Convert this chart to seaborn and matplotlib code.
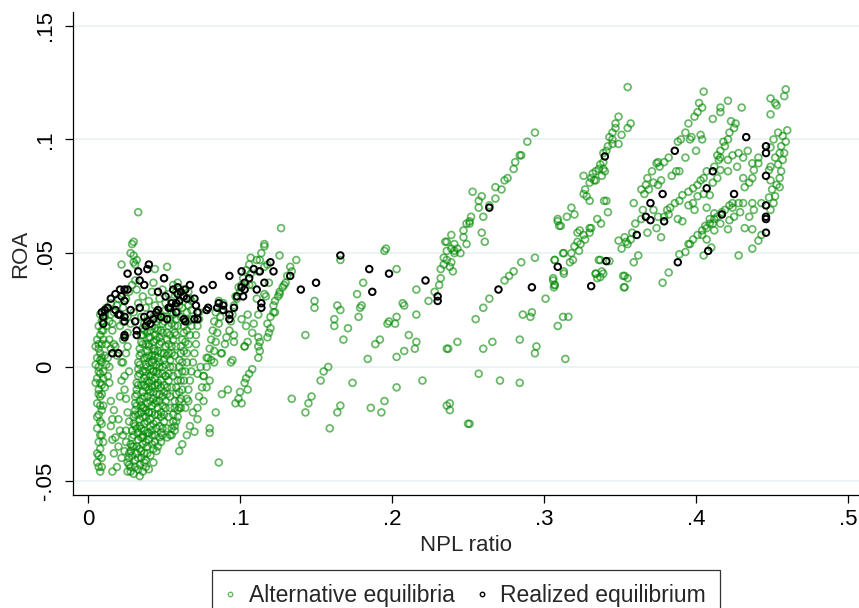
import matplotlib
matplotlib.use("Agg")
import matplotlib.pyplot as plt
from matplotlib.lines import Line2D
import seaborn as sns
import pandas as pd

# alternative equilibria, left block (NPL < .14)
alt_left = [
    # column near x = .008
    (0.006,-0.042),(0.007,-0.044),(0.006,-0.038),(0.008,-0.036),(0.007,-0.033),(0.009,-0.030),
    (0.006,-0.027),(0.008,-0.024),(0.007,-0.021),(0.009,-0.019),(0.006,-0.016),(0.008,-0.013),
    (0.007,-0.010),(0.009,-0.008),(0.006,-0.005),(0.008,-0.003),(0.007,0.000),(0.009,0.002),
    (0.006,0.004),(0.008,0.006),(0.007,0.008),(0.009,0.010),(0.006,0.012),(0.008,0.014),
    (0.010,0.016),(0.007,0.018),(0.009,0.020),(0.011,0.022),(0.008,0.023),(0.005,0.009),
    (0.005,0.001),(0.005,-0.007),(0.010,-0.002),(0.011,0.005),(0.010,0.012),(0.011,-0.009),
    (0.010,-0.017),(0.009,-0.040),(0.010,-0.033),(0.012,0.018),(0.012,0.010),(0.012,0.001),
    (0.008,-0.046),(0.009,-0.044),(0.011,0.024),(0.013,-0.004),(0.014,0.000),(0.013,0.004),
    (0.015,0.008),(0.014,0.012),(0.016,0.019),(0.015,0.023),
    (0.007,-0.039),(0.008,-0.030),(0.006,-0.022),(0.008,-0.017),(0.007,-0.012),(0.008,-0.007),
    (0.007,-0.002),(0.008,0.003),(0.007,0.010),(0.009,0.016),(0.010,0.020),(0.009,0.004),
    (0.010,-0.005),(0.009,-0.012),(0.009,-0.025),
    # sparse band x .013-.028
    (0.014,-0.007),(0.015,-0.015),(0.017,-0.019),(0.016,-0.023),(0.016,-0.032),(0.017,-0.038),
    (0.016,-0.046),(0.020,-0.023),(0.022,-0.006),(0.023,0.002),(0.019,0.005),(0.017,0.010),
    (0.021,-0.013),(0.025,-0.028),(0.026,-0.042),(0.028,-0.046),(0.027,-0.002),(0.024,-0.010),
    (0.026,-0.020),(0.023,-0.030),(0.020,-0.035),(0.022,-0.040),(0.019,-0.044),(0.024,-0.037),
    (0.021,-0.028),(0.018,-0.031),(0.015,-0.026),(0.018,0.009),(0.025,0.006),(0.026,0.015),
    (0.023,0.012),(0.021,0.018),(0.022,0.002),(0.024,-0.004),(0.025,-0.014),(0.027,-0.024),
    (0.025,-0.033),(0.027,-0.038),(0.026,0.009),(0.023,0.020),
    # dense core, slanted streaks
    (0.026,-0.046),(0.027,-0.043),(0.027,-0.040),(0.028,-0.037),(0.028,-0.034),(0.029,-0.031),
    (0.029,-0.028),(0.030,-0.025),(0.030,-0.022),(0.031,-0.019),(0.031,-0.016),(0.031,-0.013),
    (0.032,-0.010),(0.032,-0.007),(0.033,-0.004),(0.033,-0.001),(0.033,0.002),(0.034,0.005),
    (0.034,0.008),(0.035,0.011),(0.035,0.014),(0.036,0.017),
    (0.030,-0.047),(0.031,-0.044),(0.031,-0.041),(0.032,-0.038),(0.032,-0.035),(0.033,-0.032),
    (0.033,-0.029),(0.034,-0.026),(0.034,-0.023),(0.035,-0.020),(0.035,-0.017),(0.036,-0.014),
    (0.036,-0.011),(0.037,-0.008),(0.037,-0.005),(0.038,-0.002),(0.038,0.001),(0.039,0.004),
    (0.039,0.007),(0.040,0.010),(0.040,0.013),(0.041,0.016),(0.041,0.019),
    (0.034,-0.043),(0.035,-0.040),(0.035,-0.037),(0.036,-0.034),(0.036,-0.031),(0.037,-0.028),
    (0.037,-0.025),(0.038,-0.022),(0.038,-0.019),(0.039,-0.016),(0.039,-0.013),(0.040,-0.010),
    (0.040,-0.007),(0.041,-0.004),(0.041,-0.001),(0.042,0.002),(0.042,0.005),(0.043,0.008),
    (0.043,0.011),(0.044,0.014),(0.044,0.017),(0.045,0.020),(0.046,0.023),
    (0.038,-0.041),(0.039,-0.038),(0.039,-0.035),(0.040,-0.032),(0.040,-0.029),(0.041,-0.026),
    (0.041,-0.023),(0.042,-0.020),(0.042,-0.017),(0.043,-0.014),(0.043,-0.011),(0.044,-0.008),
    (0.044,-0.005),(0.045,-0.002),(0.045,0.001),(0.046,0.004),(0.046,0.007),(0.047,0.010),
    (0.047,0.013),(0.048,0.016),(0.049,0.019),(0.050,0.022),
    (0.043,-0.036),(0.044,-0.033),(0.044,-0.030),(0.045,-0.027),(0.045,-0.024),(0.046,-0.021),
    (0.046,-0.018),(0.047,-0.015),(0.047,-0.012),(0.048,-0.009),(0.048,-0.006),(0.049,-0.003),
    (0.049,0.000),(0.050,0.003),(0.050,0.006),(0.051,0.009),(0.052,0.012),(0.052,0.015),
    (0.053,0.018),(0.054,0.021),(0.055,0.024),
    (0.048,-0.033),(0.049,-0.030),(0.049,-0.027),(0.050,-0.024),(0.050,-0.021),(0.051,-0.018),
    (0.051,-0.015),(0.052,-0.012),(0.052,-0.009),(0.053,-0.006),(0.053,-0.003),(0.054,0.000),
    (0.054,0.003),(0.055,0.006),(0.055,0.009),(0.056,0.012),(0.057,0.015),(0.057,0.018),
    (0.058,0.021),(0.059,0.024),(0.060,0.027),
    (0.055,-0.030),(0.055,-0.027),(0.056,-0.024),(0.056,-0.021),(0.057,-0.018),(0.057,-0.015),
    (0.058,-0.012),(0.058,-0.009),(0.059,-0.006),(0.059,-0.003),(0.060,0.000),(0.060,0.003),
    (0.061,0.006),(0.061,0.009),(0.062,0.012),(0.063,0.015),(0.063,0.018),(0.064,0.021),
    (0.065,0.024),(0.066,0.027),(0.067,0.030),
    (0.032,-0.027),(0.033,-0.021),(0.034,-0.015),(0.035,-0.008),(0.036,-0.002),(0.037,0.004),
    (0.038,0.010),(0.039,0.015),(0.036,-0.030),(0.037,-0.018),(0.039,-0.006),(0.040,0.002),
    (0.042,-0.009),(0.043,-0.002),(0.044,0.005),(0.045,-0.015),(0.046,-0.008),(0.047,0.000),
    (0.048,-0.020),(0.050,-0.011),(0.051,-0.004),(0.053,0.006),(0.042,-0.028),(0.040,-0.020),
    # dense core, in-between streaks
    (0.028,-0.044),(0.029,-0.039),(0.029,-0.035),(0.030,-0.030),(0.031,-0.026),(0.031,-0.021),
    (0.032,-0.017),(0.032,-0.012),(0.033,-0.008),(0.034,-0.003),(0.034,0.001),(0.035,0.006),
    (0.036,0.010),(0.036,0.014),(0.037,0.019),
    (0.033,-0.045),(0.033,-0.040),(0.034,-0.036),(0.035,-0.031),(0.035,-0.027),(0.036,-0.022),
    (0.036,-0.018),(0.037,-0.013),(0.038,-0.009),(0.038,-0.004),(0.039,0.000),(0.040,0.005),
    (0.040,0.009),(0.041,0.013),(0.042,0.018),(0.043,0.022),
    (0.037,-0.042),(0.037,-0.038),(0.038,-0.033),(0.039,-0.029),(0.039,-0.024),(0.040,-0.020),
    (0.041,-0.015),(0.041,-0.011),(0.042,-0.006),(0.043,-0.002),(0.043,0.003),(0.044,0.007),
    (0.045,0.012),(0.046,0.016),(0.047,0.021),
    (0.041,-0.039),(0.042,-0.034),(0.042,-0.030),(0.043,-0.025),(0.044,-0.021),(0.044,-0.016),
    (0.045,-0.012),(0.046,-0.007),(0.046,-0.003),(0.047,0.002),(0.048,0.006),(0.048,0.011),
    (0.049,0.015),(0.050,0.020),(0.051,0.025),
    (0.046,-0.035),(0.047,-0.031),(0.047,-0.026),(0.048,-0.022),(0.049,-0.017),(0.049,-0.013),
    (0.050,-0.008),(0.051,-0.004),(0.051,0.001),(0.052,0.005),(0.053,0.010),(0.054,0.014),
    (0.055,0.019),(0.056,0.023),
    (0.052,-0.031),(0.052,-0.027),(0.053,-0.022),(0.054,-0.018),(0.054,-0.013),(0.055,-0.009),
    (0.056,-0.004),(0.056,0.000),(0.057,0.005),(0.058,0.009),(0.058,0.014),(0.059,0.018),
    (0.061,0.022),(0.062,0.026),
    (0.057,-0.028),(0.058,-0.024),(0.059,-0.019),(0.060,-0.015),(0.060,-0.011),(0.061,-0.006),
    (0.062,-0.002),(0.062,0.002),(0.063,0.007),(0.064,0.011),(0.065,0.016),(0.066,0.020),
    (0.068,0.025),
    # top of the block, around the realized points
    (0.012,0.026),(0.015,0.028),(0.017,0.024),(0.019,0.027),(0.014,0.020),(0.016,0.016),
    (0.020,0.030),(0.023,0.026),(0.025,0.030),(0.027,0.033),(0.026,0.022),(0.028,0.019),
    (0.030,0.024),(0.033,0.028),(0.036,0.031),(0.038,0.026),(0.040,0.029),(0.042,0.033),
    (0.044,0.027),(0.047,0.030),(0.049,0.034),(0.051,0.028),(0.053,0.032),(0.055,0.029),
    (0.058,0.033),(0.061,0.031),(0.063,0.034),(0.066,0.033),(0.068,0.029),(0.035,0.022),
    (0.037,0.016),
    # spike near x = .032
    (0.033,0.068),(0.029,0.054),(0.030,0.055),(0.028,0.050),(0.030,0.049),(0.032,0.047),
    (0.030,0.046),(0.031,0.045),(0.022,0.045),(0.044,0.043),(0.052,0.044),(0.050,0.039),
    (0.059,0.037),(0.056,0.036),(0.043,0.037),(0.031,0.038),(0.032,0.034),(0.029,0.036),
    # streaks x .059-.09
    (0.059,-0.022),(0.060,-0.018),(0.061,-0.014),(0.062,-0.010),(0.063,-0.006),(0.064,-0.002),
    (0.065,0.002),(0.065,0.006),(0.066,0.010),(0.067,0.014),(0.068,0.018),(0.068,0.021),
    (0.064,-0.018),(0.065,-0.014),(0.066,-0.010),(0.067,-0.006),(0.068,-0.002),(0.069,0.002),
    (0.070,0.006),(0.071,0.010),(0.071,0.014),(0.072,0.018),(0.073,0.021),(0.073,0.024),
    (0.072,-0.018),(0.073,-0.013),(0.075,-0.009),(0.076,-0.004),(0.078,0.000),(0.079,0.004),
    (0.080,0.008),(0.081,0.012),(0.082,0.016),(0.083,0.020),(0.084,0.024),(0.086,0.029),
    (0.081,0.003),(0.083,0.007),(0.084,0.011),(0.085,0.015),(0.086,0.019),(0.087,0.022),
    (0.088,0.025),(0.089,0.028),
    (0.088,0.006),(0.090,0.010),(0.091,0.013),(0.093,0.016),(0.094,0.020),(0.095,0.023),
    (0.096,0.027),(0.097,0.031),(0.099,0.035),
    (0.098,0.030),(0.100,0.033),(0.101,0.036),(0.102,0.039),(0.104,0.0425),(0.106,0.045),
    (0.107,0.048),
    # lower scatter of the block
    (0.070,-0.0285),(0.072,-0.023),(0.076,-0.015),(0.080,-0.027),(0.080,-0.029),(0.086,-0.042),
    (0.066,-0.015),(0.078,-0.009),(0.080,-0.006),(0.074,0.000),(0.043,-0.042),(0.045,-0.037),
    (0.048,-0.029),(0.054,-0.030),(0.057,-0.026),(0.061,-0.018),(0.034,-0.048),(0.030,-0.035),
    (0.062,-0.034),(0.065,-0.030),(0.060,-0.037),(0.067,-0.026),(0.069,-0.020),(0.083,0.002),
    (0.078,0.004),(0.076,-0.004),(0.072,-0.003),(0.094,0.002),(0.103,0.009),(0.088,-0.012),
    (0.084,-0.020),(0.092,-0.010),(0.0875,0.006),(0.040,-0.045),(0.036,-0.046),(0.038,-0.044),
    # right edge streaks x .095-.14
    (0.116,0.054),(0.116,0.053),(0.113,0.047),(0.111,0.047),(0.114,0.050),(0.126,0.049),
    (0.133,0.044),(0.134,0.042),(0.131,0.040),(0.130,0.037),(0.129,0.036),(0.128,0.035),
    (0.126,0.033),(0.126,0.032),(0.125,0.031),(0.123,0.029),(0.122,0.027),(0.123,0.024),
    (0.120,0.022),(0.118,0.019),(0.120,0.017),(0.119,0.015),(0.118,0.013),(0.112,0.013),
    (0.113,0.011),(0.112,0.009),(0.113,0.007),(0.112,0.004),(0.108,-0.001),(0.106,-0.003),
    (0.104,-0.005),(0.103,-0.007),(0.105,-0.010),(0.100,-0.011),(0.099,-0.014),(0.101,-0.016),
    (0.097,-0.016),(0.109,0.019),(0.105,0.023),(0.104,0.018),(0.108,0.015),(0.105,0.011),
    (0.103,0.009),(0.096,0.014),(0.096,0.011),(0.095,0.003),(0.101,0.021),(0.117,0.031),
    (0.116,0.032),(0.122,0.024),(0.112,0.023),(0.111,0.030),(0.119,0.037),(0.116,0.044),
    (0.118,0.045),(0.112,0.042),(0.107,0.041),(0.108,0.036),(0.106,0.036),(0.127,0.061),
    (0.137,0.047),(0.134,-0.014),
]

# alternative equilibria, middle stretch (.14 < NPL < .31)
alt_mid = [
    (0.149,0.029),(0.149,0.026),(0.143,0.014),(0.158,0.000),(0.155,-0.002),(0.153,-0.006),
    (0.147,-0.013),(0.145,-0.016),(0.143,-0.020),(0.159,-0.027),(0.164,-0.020),(0.166,-0.017),
    (0.174,-0.007),(0.168,0.012),(0.171,0.017),(0.162,0.018),(0.162,0.021),(0.164,0.027),
    (0.166,0.025),(0.166,0.047),(0.177,0.032),(0.181,0.037),(0.178,0.022),(0.179,0.026),
    (0.180,0.027),(0.184,0.0035),(0.189,0.010),(0.192,0.012),(0.186,-0.018),(0.193,-0.020),
    (0.195,-0.015),(0.203,-0.009),(0.195,0.051),(0.196,0.052),(0.203,0.043),(0.198,0.020),
    (0.202,0.019),(0.197,0.019),(0.203,0.022),(0.207,0.028),(0.208,0.027),(0.216,0.023),
    (0.211,0.014),(0.216,0.011),(0.215,0.008),(0.208,0.007),(0.203,0.0044),(0.220,-0.006),
    (0.216,0.034),(0.224,0.029),(0.228,0.033),(0.231,0.036),(0.232,0.039),(0.232,0.043),
    (0.234,0.045),(0.234,0.048),(0.236,0.047),(0.236,0.051),(0.239,0.052),(0.241,0.050),
    (0.241,0.051),(0.243,0.052),(0.245,0.050),(0.239,0.046),(0.238,0.044),(0.240,0.042),
    (0.235,0.055),(0.236,0.055),(0.239,0.058),(0.241,0.054),(0.247,0.057),(0.249,0.054),
    (0.247,0.060),(0.249,0.063),(0.251,0.064),(0.252,0.066),(0.251,0.063),(0.253,0.077),
    (0.257,0.070),(0.257,0.073),(0.259,0.075),(0.260,0.066),(0.259,0.059),(0.261,0.055),
    (0.264,0.071),(0.268,0.074),(0.268,0.079),(0.272,0.078),(0.274,0.082),(0.276,0.083),
    (0.280,0.087),(0.281,0.090),(0.284,0.093),(0.285,0.093),(0.289,0.099),(0.294,0.103),
    (0.257,-0.003),(0.271,-0.006),(0.284,-0.007),(0.251,-0.025),(0.250,-0.025),(0.236,-0.017),
    (0.238,-0.016),(0.238,-0.019),(0.237,0.008),(0.236,0.008),(0.243,0.011),(0.260,0.008),
    (0.266,0.011),(0.255,0.021),(0.260,0.026),(0.264,0.030),(0.274,0.038),(0.277,0.040),
    (0.280,0.042),(0.285,0.046),(0.294,0.048),(0.286,0.023),(0.291,0.022),(0.292,0.024),
    (0.284,0.012),(0.294,0.006),(0.295,0.009),(0.301,0.030),(0.307,0.047),(0.306,0.038),
    (0.307,0.036),(0.309,0.018),(0.309,0.065),(0.310,0.062),(0.3125,0.050),(0.313,0.041),
    (0.3065,0.035),(0.3125,0.022),(0.316,0.022),(0.314,0.0035),
]

# alternative equilibria, right block (NPL > .3)
alt_right = [
    (0.355,0.123),(0.357,0.107),(0.355,0.105),(0.349,0.110),(0.347,0.107),(0.347,0.105),
    (0.345,0.103),(0.343,0.101),(0.345,0.100),(0.351,0.102),(0.349,0.098),(0.345,0.098),
    (0.342,0.097),(0.341,0.095),(0.339,0.094),(0.339,0.090),(0.337,0.089),(0.336,0.087),
    (0.334,0.086),(0.339,0.087),(0.340,0.086),(0.338,0.084),(0.332,0.085),(0.331,0.083),
    (0.333,0.082),(0.330,0.081),(0.327,0.078),(0.326,0.076),(0.328,0.075),(0.318,0.070),
    (0.315,0.066),(0.320,0.067),(0.309,0.064),(0.311,0.062),(0.322,0.059),(0.330,0.061),
    (0.331,0.061),(0.330,0.059),(0.326,0.058),(0.327,0.056),(0.324,0.054),(0.322,0.055),
    (0.320,0.053),(0.323,0.051),(0.318,0.050),(0.319,0.047),(0.313,0.050),(0.317,0.046),
    (0.307,0.047),(0.313,0.042),(0.306,0.039),(0.307,0.036),(0.335,0.065),(0.341,0.073),
    (0.342,0.068),(0.337,0.047),(0.343,0.0465),(0.334,0.041),(0.338,0.042),(0.335,0.039),
    (0.353,0.035),(0.352,0.040),(0.355,0.039),(0.362,0.049),(0.351,0.052),(0.353,0.057),
    (0.354,0.055),(0.355,0.054),(0.357,0.056),(0.358,0.059),(0.360,0.063),(0.364,0.065),
    (0.365,0.069),(0.372,0.069),(0.375,0.066),(0.374,0.061),(0.368,0.059),(0.377,0.057),
    (0.359,0.072),(0.364,0.078),(0.367,0.080),(0.375,0.080),(0.377,0.082),(0.374,0.0895),
    (0.375,0.090),(0.382,0.092),(0.384,0.084),(0.387,0.086),(0.389,0.086),(0.393,0.092),
    (0.388,0.099),(0.390,0.100),(0.396,0.100),(0.397,0.101),(0.393,0.103),(0.395,0.107),
    (0.399,0.110),(0.401,0.112),(0.402,0.116),(0.404,0.114),(0.405,0.121),(0.403,0.102),
    (0.404,0.100),(0.400,0.095),(0.416,0.114),(0.416,0.112),(0.421,0.117),(0.430,0.114),
    (0.411,0.109),(0.423,0.108),(0.426,0.107),(0.425,0.105),(0.422,0.103),(0.421,0.100),
    (0.418,0.099),(0.419,0.097),(0.416,0.095),(0.414,0.093),(0.415,0.091),(0.412,0.088),
    (0.407,0.086),(0.405,0.083),(0.403,0.082),(0.401,0.080),(0.398,0.0785),(0.395,0.077),
    (0.391,0.0755),(0.389,0.073),(0.386,0.072),(0.383,0.070),(0.381,0.069),(0.379,0.066),
    (0.382,0.067),(0.388,0.065),(0.391,0.064),(0.395,0.071),(0.398,0.072),(0.399,0.069),
    (0.401,0.075),(0.405,0.076),(0.409,0.0755),(0.411,0.081),(0.414,0.083),(0.416,0.0865),
    (0.421,0.091),(0.424,0.093),(0.428,0.094),(0.421,0.086),(0.416,0.092),(0.407,0.070),
    (0.409,0.065),(0.412,0.0675),(0.411,0.063),(0.407,0.061),(0.404,0.058),(0.407,0.056),
    (0.412,0.060),(0.416,0.063),(0.421,0.0605),(0.422,0.0645),(0.425,0.066),(0.424,0.070),
    (0.429,0.068),(0.431,0.072),(0.428,0.072),(0.432,0.079),(0.435,0.081),(0.431,0.083),
    (0.437,0.083),(0.438,0.0865),(0.441,0.0895),(0.437,0.0895),(0.441,0.092),(0.449,0.0965),
    (0.451,0.100),(0.454,0.103),(0.455,0.094),(0.452,0.092),(0.449,0.088),(0.448,0.0865),
    (0.449,0.082),(0.455,0.079),(0.448,0.0745),(0.443,0.072),(0.438,0.069),(0.437,0.072),
    (0.435,0.066),(0.432,0.061),(0.437,0.0605),(0.443,0.058),(0.441,0.0555),(0.437,0.052),
    (0.428,0.049),(0.405,0.049),(0.410,0.0525),(0.395,0.054),(0.393,0.0505),(0.389,0.0495),
    (0.382,0.0415),(0.378,0.037),(0.449,0.118),(0.452,0.116),(0.453,0.115),(0.459,0.122),
    (0.458,0.119),(0.449,0.111),(0.349,0.0555),(0.359,0.046),(0.353,0.040),(0.3395,0.073),
    (0.330,0.073),(0.3235,0.060),(0.3375,0.063),(0.334,0.082),(0.326,0.084),(0.336,0.047),
    (0.334,0.041),(0.337,0.0395),(0.339,0.041),(0.3525,0.035),(0.396,0.054),
    (0.398,0.056),(0.401,0.058),(0.404,0.060),(0.406,0.062),(0.409,0.063),(0.412,0.065),
    (0.414,0.066),(0.417,0.068),(0.419,0.069),(0.422,0.071),(0.424,0.072),
    (0.449,0.069),(0.451,0.072),(0.452,0.075),(0.450,0.078),(0.453,0.080),(0.455,0.083),
    (0.456,0.086),(0.454,0.089),(0.457,0.091),(0.458,0.094),(0.456,0.097),(0.459,0.099),
    (0.457,0.1015),(0.460,0.104),(0.366,0.076),(0.369,0.078),(0.372,0.081),(0.368,0.083),
    (0.371,0.086),(0.376,0.088),(0.379,0.090),(0.431,0.092),(0.434,0.095),(0.427,0.088),
]

# realized equilibrium
realized = [
    (0.026,0.041),(0.033,0.042),(0.039,0.043),(0.040,0.045),(0.034,0.038),(0.037,0.036),
    (0.050,0.039),(0.046,0.033),(0.056,0.034),(0.059,0.035),(0.059,0.032),(0.061,0.033),
    (0.064,0.034),(0.067,0.036),(0.063,0.031),(0.065,0.030),(0.026,0.034),(0.024,0.034),
    (0.021,0.034),(0.018,0.032),(0.015,0.030),(0.022,0.031),(0.024,0.029),(0.013,0.026),
    (0.011,0.025),(0.009,0.024),(0.010,0.022),(0.010,0.019),(0.018,0.025),(0.020,0.023),
    (0.021,0.023),(0.024,0.022),(0.024,0.020),(0.028,0.025),(0.034,0.026),(0.031,0.020),
    (0.037,0.022),(0.041,0.023),(0.039,0.020),(0.038,0.018),(0.041,0.019),(0.043,0.021),
    (0.045,0.024),(0.046,0.025),(0.048,0.022),(0.052,0.021),(0.053,0.026),(0.051,0.031),
    (0.054,0.026),(0.055,0.028),(0.058,0.028),(0.060,0.029),(0.058,0.024),(0.063,0.021),
    (0.064,0.020),(0.070,0.030),(0.071,0.027),(0.072,0.024),(0.070,0.021),(0.072,0.021),
    (0.076,0.034),(0.078,0.025),(0.079,0.026),(0.082,0.036),(0.086,0.028),(0.085,0.026),
    (0.089,0.027),(0.089,0.025),(0.096,0.026),(0.093,0.023),(0.093,0.021),(0.093,0.040),
    (0.101,0.042),(0.103,0.037),(0.101,0.035),(0.103,0.034),(0.098,0.031),(0.102,0.031),
    (0.106,0.039),(0.109,0.043),(0.113,0.042),(0.116,0.037),(0.120,0.046),(0.122,0.042),
    (0.114,0.028),(0.114,0.026),(0.133,0.040),(0.111,0.034),(0.024,0.014),(0.024,0.013),
    (0.032,0.016),(0.032,0.014),(0.016,0.006),(0.020,0.006),
    (0.140,0.034),(0.150,0.037),(0.166,0.049),(0.185,0.043),(0.187,0.033),(0.198,0.041),
    (0.222,0.038),(0.230,0.031),(0.230,0.029),(0.264,0.070),(0.270,0.034),(0.292,0.035),
    (0.309,0.044),(0.331,0.0355),(0.340,0.0925),(0.341,0.0465),
    (0.386,0.095),(0.378,0.076),(0.370,0.072),(0.367,0.066),(0.370,0.0645),(0.379,0.064),
    (0.361,0.058),(0.411,0.086),(0.407,0.0785),(0.417,0.067),(0.425,0.076),(0.433,0.101),
    (0.446,0.097),(0.446,0.094),(0.446,0.084),(0.446,0.071),(0.446,0.066),(0.446,0.065),
    (0.446,0.059),(0.408,0.051),(0.388,0.046),
]

x_ticks = [0, 0.1, 0.2, 0.3, 0.4, 0.5]
x_tick_labels = ["0", ".1", ".2", ".3", ".4", ".5"]
y_ticks = [-0.05, 0, 0.05, 0.1, 0.15]
y_tick_labels = ["-.05", "0", ".05", ".1", ".15"]

green = "#008a00"

alt = pd.DataFrame(alt_left + alt_mid + alt_right, columns=["npl", "roa"])
real = pd.DataFrame(realized, columns=["npl", "roa"])

sns.set_style("white")
plt.rcParams["font.family"] = ["Liberation Sans", "DejaVu Sans"]

fig = plt.figure(figsize=(8.59, 6.08), dpi=100)
ax = fig.add_axes([73/859, 1 - 495/608, (859 - 73)/859, (495 - 12)/608])

sns.scatterplot(data=alt, x="npl", y="roa", ax=ax, color=green,
                s=24, linewidth=1.25, alpha=0.6, zorder=3)
sns.scatterplot(data=real, x="npl", y="roa", ax=ax, color="black",
                s=22, linewidth=1.4, alpha=1.0, zorder=4)
for coll, c in zip(ax.collections, [green, "black"]):
    coll.set_facecolor("none")
    coll.set_edgecolor(c)

ax.set_xlim(-0.0099, 0.5072)
ax.set_ylim(-0.0563, 0.156)
ax.set_xticks(x_ticks)
ax.set_xticklabels(x_tick_labels)
ax.set_yticks(y_ticks)
ax.set_yticklabels(y_tick_labels, rotation=90, va="center")

ax.yaxis.grid(True, color="#eaf2f3", lw=1.3, zorder=0)
ax.xaxis.grid(False)
ax.set_axisbelow(True)
for side in ["top", "right"]:
    ax.spines[side].set_visible(False)
for side in ["left", "bottom"]:
    ax.spines[side].set_color("black")
    ax.spines[side].set_linewidth(0.9)

ax.tick_params(axis="both", direction="out", length=6, width=0.9,
               colors="black", labelsize=16, left=True, bottom=True)
ax.tick_params(axis="y", pad=6)
ax.tick_params(axis="x", pad=4)
ax.set_xlabel("NPL ratio", fontsize=16, labelpad=4)
ax.set_ylabel("ROA", fontsize=16, labelpad=3)

handles = [
    Line2D([], [], ls="none", marker="o", ms=3.2, mfc="none", mec=green,
           mew=1.0, alpha=0.6),
    Line2D([], [], ls="none", marker="o", ms=3.2, mfc="none", mec="black", mew=1.0),
]
leg = fig.legend(handles, ["Alternative equilibria", "Realized equilibrium"],
                 loc="upper center", bbox_to_anchor=(466/859, 1 - 570/608), ncol=2,
                 fontsize=16.5, frameon=True, fancybox=False, edgecolor="black",
                 handlelength=0.4, handletextpad=0.6, columnspacing=1.0,
                 borderpad=0.6, borderaxespad=0)
leg.get_frame().set_linewidth(0.9)

fig.savefig("out.png", dpi=100)
